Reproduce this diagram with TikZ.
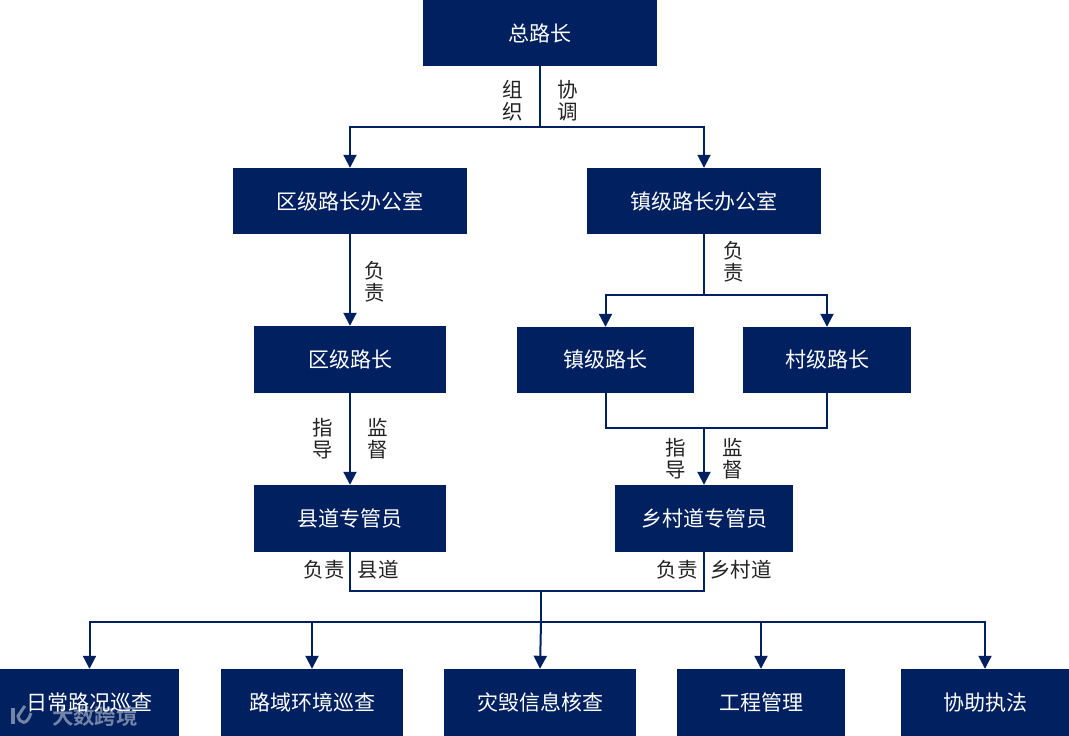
\documentclass[tikz,border=0pt]{standalone}
\usepackage{fontspec}
\setmainfont{Noto Sans CJK SC}
\newfontfamily\wmfont[BoldFont=Noto Sans CJK SC Bold]{Noto Sans CJK SC}
\usetikzlibrary{arrows.meta}
\definecolor{navy}{HTML}{00205F}
\definecolor{ink}{HTML}{222222}
\tikzset{
  boxnode/.style={fill=navy,text=white,inner sep=0pt,font=\fontsize{21}{24}\selectfont},
  lbl/.style={text=ink,inner sep=0pt,align=center,font=\fontsize{20.5}{22}\selectfont},
  link/.style={draw=navy,line width=2pt},
  arrowlink/.style={link,-{Triangle[width=13pt,length=13pt]}}
}
\newcommand{\bx}[6]{\node[boxnode,minimum width=#4pt-#2pt,minimum height=#5pt-#3pt] (#1) at ({(#2+#4)/2},{(#3+#5)/2}) {#6};}
\begin{document}
\begin{tikzpicture}[x=1pt,y=-1pt]
\useasboundingbox (0,0) rectangle (1069,736);
\bx{top}{423}{0}{657}{66}{总路长}
\bx{qoff}{233}{168}{467}{234}{区级路长办公室}
\bx{zoff}{587}{168}{821}{234}{镇级路长办公室}
\bx{qz}{254}{326}{446}{393}{区级路长}
\bx{zz}{517}{327}{694}{393}{镇级路长}
\bx{cz}{743}{327}{911}{393}{村级路长}
\bx{xd}{254}{485}{446}{552}{县道专管员}
\bx{xc}{615}{485}{793}{552}{乡村道专管员}
\bx{b1}{0}{669}{179}{736}{日常路况巡查}
\bx{b2}{221}{669}{403}{736}{路域环境巡查}
\bx{b3}{444}{669}{636}{736}{灾毁信息核查}
\bx{b4}{677}{669}{845}{736}{工程管理}
\bx{b5}{901}{669}{1069}{736}{协助执法}
% junction coordinates
\coordinate (bus1) at (540,127);
\coordinate (bus2) at (704,294.5);
\coordinate (bus3) at (704,427.5);
\coordinate (bus4) at (541,591);
\coordinate (bus5) at (541,622);
% top tier
\draw[link] (top.south) -- (bus1);
\draw[arrowlink] (bus1) -| (qoff.north);
\draw[arrowlink] (bus1) -| (zoff.north);
% district
\draw[arrowlink] (qoff.south) -- (qz.north);
\draw[arrowlink] (qz.south) -- (xd.north);
% town
\draw[link] (zoff.south) -- (bus2);
\draw[arrowlink] (bus2) -| (zz.north);
\draw[arrowlink] (bus2) -| (cz.north);
\draw[link] (zz.south) |- (bus3);
\draw[link] (cz.south) |- (bus3);
\draw[arrowlink] (bus3) -- (bus3 |- xc.north);
% bottom
\draw[link] (xd.south) |- (bus4);
\draw[link] (xc.south) |- (bus4);
\draw[link] (bus4) -- (bus5);
\draw[arrowlink] (bus5) -- (b3.north);
\draw[arrowlink] (bus5) -| (b1.north);
\draw[arrowlink] (bus5) -| (b2.north);
\draw[arrowlink] (bus5) -| (b4.north);
\draw[arrowlink] (bus5) -| (b5.north);
% labels
\node[lbl] (l1) at (513,101) {组\\织};
\node[lbl] (l2) at (568,101) {协\\调};
\node[lbl] (l3) at (375,282) {负\\责};
\node[lbl] (l4) at (734,262) {负\\责};
\node[lbl] (l5) at (323,439) {指\\导};
\node[lbl] (l6) at (378,439) {监\\督};
\node[lbl] (l7) at (676,459) {指\\导};
\node[lbl] (l8) at (733,459) {监\\督};
\node[lbl] (l9) at (324,570) {负责};
\node[lbl] (l10) at (378,570) {县道};
\node[lbl] (l11) at (677,570) {负责};
\node[lbl] (l12) at (741,570) {乡村道};
% watermark
\node[text=white,text opacity=.45,inner sep=0pt,font=\wmfont\bfseries\fontsize{21.5}{24}\selectfont] (wm) at (95,716) {大数跨境};
\draw[white,opacity=.45,line width=3.5pt] (13,708) -- (13,724);
\draw[white,opacity=.45,line width=3pt] (31,713) .. controls (27,726) and (20,724) .. (18,716) .. controls (21,712) and (23,708) .. (25,706);
\end{tikzpicture}
\end{document}
